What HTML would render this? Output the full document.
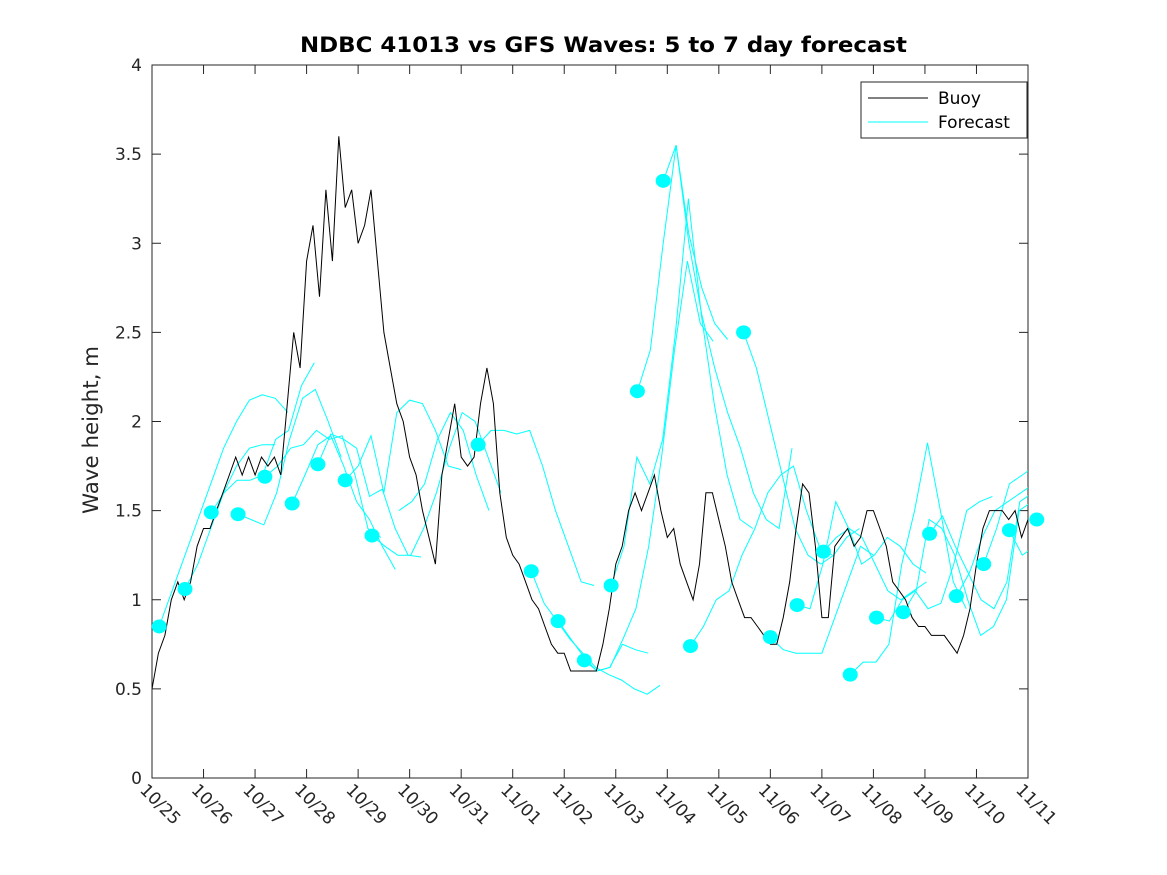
<!DOCTYPE html>
<html><head><meta charset="utf-8"><style>
html,body{margin:0;padding:0;background:#fff;}
svg{display:block;font-family:"DejaVu Sans","Liberation Sans",sans-serif;}
</style></head><body>
<svg id="chart" width="1167" height="875" viewBox="0 0 1167 875" xmlns="http://www.w3.org/2000/svg">
<defs><clipPath id="plotclip"><rect x="152" y="65" width="876" height="713"/></clipPath></defs>
<rect width="1167" height="875" fill="#fff"/>
<text x="300" y="52" textLength="607" lengthAdjust="spacingAndGlyphs" font-size="21" font-weight="bold" fill="#000">NDBC 41013 vs GFS Waves: 5 to 7 day forecast</text>
<g id="axes"></g>
<g id="series" clip-path="url(#plotclip)"></g>
<g id="dots"></g>
<text transform="translate(98,430) rotate(-90)" text-anchor="middle" textLength="168" lengthAdjust="spacingAndGlyphs" font-size="21" fill="#262626">Wave height, m</text>
<g>
<rect x="861" y="82" width="166" height="56" fill="#fff" stroke="#262626" stroke-width="1"/>
<line x1="868" y1="98" x2="928" y2="98" stroke="#000" stroke-width="1"/>
<text x="938" y="104" font-size="17" fill="#000">Buoy</text>
<line x1="868" y1="122" x2="928" y2="122" stroke="#00ffff" stroke-width="1"/>
<text x="938" y="128" font-size="17" fill="#000">Forecast</text>
</g>
</svg>
<script>
const xTickLabels = ["10/25","10/26","10/27","10/28","10/29","10/30","10/31","11/01","11/02","11/03","11/04","11/05","11/06","11/07","11/08","11/09","11/10","11/11"];
const yTicks = [0,0.5,1,1.5,2,2.5,3,3.5,4];
const yTickLabels = ["0","0.5","1","1.5","2","2.5","3","3.5","4"];
// buoy heights, 3-hourly from 10/25 00:00
const buoyStepHours = 3;
const buoyHeights = [0.5,0.7,0.8,1.0,1.1,1.0,1.1,1.3,1.4,1.4,1.5,1.6,1.7,1.8,1.7,1.8,1.7,1.8,1.75,1.8,1.7,2.1,2.5,2.3,2.9,3.1,2.7,3.3,2.9,3.6,3.2,3.3,3.0,3.1,3.3,2.9,2.5,2.3,2.1,2.0,1.8,1.7,1.5,1.35,1.2,1.7,1.9,2.1,1.8,1.75,1.8,2.1,2.3,2.1,1.6,1.35,1.25,1.2,1.1,1.0,0.95,0.85,0.75,0.7,0.7,0.6,0.6,0.6,0.6,0.6,0.75,0.95,1.2,1.3,1.5,1.6,1.5,1.6,1.7,1.5,1.35,1.4,1.2,1.1,1.0,1.2,1.6,1.6,1.45,1.3,1.1,1.0,0.9,0.9,0.85,0.8,0.75,0.75,0.9,1.1,1.4,1.65,1.6,1.3,0.9,0.9,1.3,1.35,1.4,1.3,1.35,1.5,1.5,1.4,1.3,1.1,1.05,1.0,0.9,0.85,0.85,0.8,0.8,0.8,0.75,0.7,0.8,0.95,1.2,1.4,1.5,1.5,1.5,1.45,1.5,1.35,1.45];
// forecast start days (days since 10/25) and whether a dot is drawn
const fcStartDays = [0.14,0.64,1.15,1.67,2.19,2.72,3.22,3.75,4.27,4.79,6.33,7.36,7.88,8.39,8.91,9.42,9.92,10.45,11.48,12.0,12.52,13.03,13.55,14.06,14.58,15.09,15.61,16.14,16.64,17.17];
const fcHasDot = [1,1,1,1,1,1,1,1,1,0,1,1,1,1,1,1,1,1,1,1,1,1,1,1,1,1,1,1,1,1];
const fcStepDays = 0.25;
const fcValues = [
 [0.85,1.05,1.25,1.45,1.65,1.85,2.0,2.12,2.15,2.13,2.05],
 [1.06,1.2,1.4,1.6,1.75,1.85,1.87,1.87],
 [1.49,1.6,1.67,1.67,1.7,1.9,1.95,2.2,2.33],
 [1.48,1.45,1.42,1.6,1.9,2.13,2.18,2.0,1.8],
 [1.69,1.75,1.85,1.87,1.95,1.9,1.92,1.7,1.4,1.35],
 [1.54,1.7,1.87,1.92,1.75,1.55,1.45,1.3,1.17],
 [1.76,1.93,1.9,1.85,1.58,1.62,1.4,1.25,1.24],
 [1.67,1.75,1.92,1.6,2.05,2.12,2.1,1.95,1.75,1.73],
 [1.36,1.3,1.25,1.25,1.4,1.6,1.85,2.05,2.0,1.8,1.6],
 [1.5,1.55,1.65,1.9,2.05,1.95,1.7,1.5],
 [1.87,1.95,1.95,1.93,1.95,1.75,1.5,1.3,1.1,1.08],
 [1.16,0.98,0.88,0.78,0.7,0.62,0.58,0.55,0.5,0.47,0.52],
 [0.88,0.78,0.68,0.6,0.62,0.75,0.72,0.7],
 [0.66,0.6,0.62,0.78,0.95,1.3,1.8,2.4,2.9,2.55,2.45],
 [1.08,1.3,1.8,1.65,1.9,2.5,3.25,2.6,2.1,1.7,1.45,1.4],
 [2.17,2.4,3.0,3.55,3.05,2.75,2.55,2.46],
 [3.35,3.55,3.0,2.6,2.3,2.05,1.85,1.6,1.45,1.4,1.85],
 [0.74,0.85,1.0,1.05,1.25,1.4,1.6,1.7,1.75,1.5,1.3,1.25],
 [2.5,2.3,2.0,1.7,1.4,1.25,1.2,1.25,1.35,1.4],
 [0.79,0.72,0.7,0.7,0.7,0.9,1.1,1.3,1.25],
 [0.97,0.95,1.2,1.55,1.4,1.2,1.25,1.35,1.3,1.2,1.15],
 [1.27,1.35,1.4,1.35,1.2,1.05,1.0,1.05,1.1],
 [0.58,0.65,0.65,0.75,1.2,1.5,1.88,1.5,1.1,0.95],
 [0.90,0.88,1.0,1.05,0.95,0.98,1.2,1.5,1.55,1.58],
 [0.93,1.05,1.45,1.4,1.25,1.0,0.8,0.85,1.0,1.5,1.55],
 [1.37,1.47,1.3,1.15,1.0,0.95,1.1,1.55,1.6,1.7],
 [1.02,1.15,1.35,1.5,1.55,1.6,1.65,1.75,1.68],
 [1.2,1.4,1.65,1.7,1.75,1.5,1.1,1.05],
 [1.39,1.25,1.3],
 [1.45,1.35]
];

const X0=152, X1=1028, Y0=778, Y1=65, NDAYS=17, YMAX=4;
const xs = d => X0 + d*(X1-X0)/NDAYS;
const ys = v => Y0 - v*(Y0-Y1)/YMAX;
const NS="http://www.w3.org/2000/svg";
function mk(tag, attrs, parent){const e=document.createElementNS(NS,tag);for(const k in attrs)e.setAttribute(k,attrs[k]);parent.appendChild(e);return e;}
const axes=document.getElementById('axes'), series=document.getElementById('series'), dots=document.getElementById('dots');

const box=mk('rect',{x:X0,y:Y1,width:X1-X0,height:Y0-Y1,fill:'none',stroke:'#262626','stroke-width':1},axes);


yTicks.forEach((v,i)=>{
  const y=ys(v);
  mk('line',{x1:X0,y1:y,x2:X0+9,y2:y,stroke:'#262626'},axes);
  mk('line',{x1:X1,y1:y,x2:X1-9,y2:y,stroke:'#262626'},axes);
  const t=mk('text',{x:X0-10,y:y+6,'text-anchor':'end','font-size':17,fill:'#262626'},axes);
  t.textContent=yTickLabels[i];
  
  
});
xTickLabels.forEach((lab,i)=>{
  const x=xs(i);
  mk('line',{x1:x,y1:Y0,x2:x,y2:Y0-9,stroke:'#262626'},axes);
  mk('line',{x1:x,y1:Y1,x2:x,y2:Y1+9,stroke:'#262626'},axes);
  const t=mk('text',{x:0,y:0,transform:`translate(${x-13},${Y0+13}) rotate(45)`,'font-size':17,fill:'#262626'},axes);
  t.textContent=lab;
  
  
});

fcValues.forEach((vals,i)=>{
  const pts=vals.map((v,j)=>xs(fcStartDays[i]+j*fcStepDays).toFixed(1)+','+ys(v).toFixed(1)).join(' ');
  const pl=mk('polyline',{points:pts,fill:'none',stroke:'#00ffff','stroke-width':1},series);
  
  
  if(fcHasDot[i]){
    const c=mk('ellipse',{cx:xs(fcStartDays[i]),cy:ys(vals[0]),rx:7.5,ry:7,fill:'#00ffff'},dots);
    
    
  }
});
const bpts=buoyHeights.map((v,k)=>xs(k*buoyStepHours/24).toFixed(1)+','+ys(v).toFixed(1)).join(' ');
const bl=mk('polyline',{points:bpts,fill:'none',stroke:'#000','stroke-width':1},series);


</script>
</body></html>
